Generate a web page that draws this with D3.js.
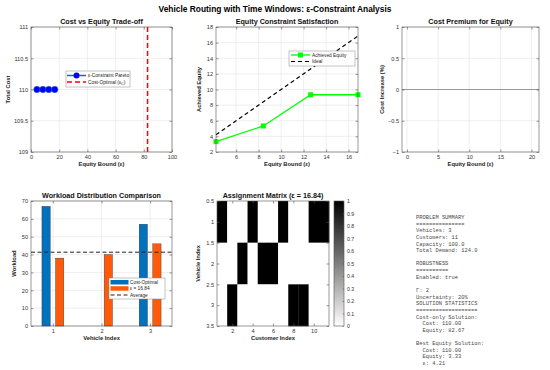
<!DOCTYPE html>
<html>
<head>
<meta charset="utf-8">
<script src="https://cdn.jsdelivr.net/npm/d3@7"></script>
<style>
  body { margin: 0; background: #fff; }
  svg { font-family: "Liberation Sans", Arial, Helvetica, sans-serif; }
</style>
</head>
<body>
<div id="chart"></div>
<script>
// ---- data ----
const paretoEps = [4.21, 8.42, 12.63, 16.84];
const paretoCost = [110, 110, 110, 110];
const costOptEquity = 82.67;
const achievedEquity = [3.33, 5.33, 9.33, 9.33];
const premiumZero = 0;
const vehicles = [1, 2, 3];
const workloadCostOpt = [67, 0, 57];
const workloadEps = [38, 40, 46];
const avgWorkload = 41.33;
const customers = [1, 2, 3, 4, 5, 6, 7, 8, 9, 10, 11];
const assignment = [
  [1, 0, 0, 1, 0, 0, 1, 0, 0, 1, 1],
  [0, 0, 1, 0, 1, 1, 0, 0, 0, 0, 0],
  [0, 1, 0, 0, 0, 0, 0, 1, 1, 0, 0]
];
const summaryLines = [
  'PROBLEM SUMMARY', '===============', 'Vehicles: 3', 'Customers: 11',
  'Capacity: 100.0', 'Total Demand: 124.0', '', 'ROBUSTNESS', '==========',
  'Enabled: true', '', 'Γ: 2', 'Uncertainty: 20%', 'SOLUTION STATISTICS',
  '===================', 'Cost-only Solution:', '  Cost: 110.00', '  Equity: 82.67',
  '', 'Best Equity Solution:', '  Cost: 110.00', '  Equity: 3.33', '  ε: 4.21'
];

const blue = '#0072bd', orange = '#ff5a0a', green = '#00ff00';
const fmt = d => String(d).replace('-', '\u2212');

const svg = d3.select('#chart').append('svg')
  .attr('width', 550).attr('height', 370);

svg.append('text')
  .attr('x', 275).attr('y', 12)
  .attr('text-anchor', 'middle')
  .style('font-size', '8.4px').style('font-weight', 'bold')
  .text('Vehicle Routing with Time Windows: ε-Constraint Analysis');

// draws grid, box, inward ticks and labels for one axes panel
function makeAxes(box, x, y, opt) {
  const g = svg.append('g');
  if (opt.grid !== false) {
    g.selectAll('.gx').data(opt.xt).enter().append('line')
      .attr('x1', d => x(d)).attr('x2', d => x(d))
      .attr('y1', box.t).attr('y2', box.b)
      .attr('stroke', '#e4e4e4').attr('stroke-width', 0.6);
    g.selectAll('.gy').data(opt.yt).enter().append('line')
      .attr('y1', d => y(d)).attr('y2', d => y(d))
      .attr('x1', box.l).attr('x2', box.r)
      .attr('stroke', '#e4e4e4').attr('stroke-width', 0.6);
  }
  const plot = svg.append('g');
  const front = svg.append('g');
  const axStyle = sel => {
    sel.select('.domain').remove();
    sel.selectAll('line').attr('stroke', '#555').attr('stroke-width', 0.6);
    sel.selectAll('text').attr('fill', '#333').style('font-size', '5.6px');
  };
  front.append('g').attr('transform', `translate(0,${box.b})`)
    .call(d3.axisBottom(x).tickValues(opt.xt).tickFormat(fmt).tickSizeInner(-2.5).tickSizeOuter(0).tickPadding(3))
    .call(axStyle);
  front.append('g').attr('transform', `translate(0,${box.t})`)
    .call(d3.axisTop(x).tickValues(opt.xt).tickFormat('').tickSizeInner(-2.5).tickSizeOuter(0))
    .call(axStyle);
  front.append('g').attr('transform', `translate(${box.l},0)`)
    .call(d3.axisLeft(y).tickValues(opt.yt).tickFormat(fmt).tickSizeInner(-2.5).tickSizeOuter(0).tickPadding(3))
    .call(axStyle);
  front.append('g').attr('transform', `translate(${box.r},0)`)
    .call(d3.axisRight(y).tickValues(opt.yt).tickFormat('').tickSizeInner(-2.5).tickSizeOuter(0))
    .call(axStyle);
  front.append('rect')
    .attr('x', box.l).attr('y', box.t)
    .attr('width', box.r - box.l).attr('height', box.b - box.t)
    .attr('fill', 'none').attr('stroke', '#555').attr('stroke-width', 0.6);
  front.append('text')
    .attr('x', (box.l + box.r) / 2).attr('y', box.t - 3)
    .attr('text-anchor', 'middle')
    .style('font-size', '7.2px').style('font-weight', 'bold').attr('fill', '#111')
    .text(opt.title);
  front.append('text')
    .attr('x', (box.l + box.r) / 2).attr('y', box.b + 14)
    .attr('text-anchor', 'middle')
    .style('font-size', '5.8px').style('font-weight', 'bold').attr('fill', '#222')
    .text(opt.xlabel);
  front.append('text')
    .attr('transform', `translate(${box.l - opt.ylOff},${(box.t + box.b) / 2}) rotate(-90)`)
    .attr('text-anchor', 'middle')
    .style('font-size', '5.8px').style('font-weight', 'bold').attr('fill', '#222')
    .text(opt.ylabel);
  return {plot, front};
}

function legendBox(g, l, t, w, h) {
  g.append('rect').attr('x', l).attr('y', t).attr('width', w).attr('height', h)
    .attr('fill', '#fff').attr('stroke', '#888').attr('stroke-width', 0.5);
}
function legendText(g, x, y, txt) {
  return g.append('text').attr('x', x).attr('y', y + 1.7)
    .style('font-size', '4.8px').attr('fill', '#222').text(txt);
}

// ---- panel 1: cost vs equity ----
{
  const box = {l: 31, r: 172, t: 27, b: 152};
  const x = d3.scaleLinear().domain([0, 100]).range([box.l, box.r]);
  const y = d3.scaleLinear().domain([109, 111]).range([box.b, box.t]);
  const {plot, front} = makeAxes(box, x, y, {
    xt: [0, 20, 40, 60, 80, 100], yt: [109, 109.5, 110, 110.5, 111],
    title: 'Cost vs Equity Trade-off', xlabel: 'Equity Bound (ε)', ylabel: 'Total Cost', ylOff: 21
  });
  const pts = paretoEps.map((e, i) => [e, paretoCost[i]]);
  plot.append('path').attr('d', d3.line().x(d => x(d[0])).y(d => y(d[1]))(pts))
    .attr('fill', 'none').attr('stroke', blue).attr('stroke-width', 1.5);
  plot.selectAll('circle').data(pts).enter().append('circle')
    .attr('cx', d => x(d[0])).attr('cy', d => y(d[1])).attr('r', 3.2)
    .attr('fill', '#0000ff').attr('stroke', blue).attr('stroke-width', 0.5);
  plot.append('line').attr('x1', x(costOptEquity)).attr('x2', x(costOptEquity))
    .attr('y1', box.t).attr('y2', box.b)
    .attr('stroke', '#ff0000').attr('stroke-width', 1.5).attr('stroke-dasharray', '5,3');
  const lg = front.append('g');
  legendBox(lg, 66, 71, 64, 16);
  lg.append('line').attr('x1', 67).attr('x2', 86).attr('y1', 75.5).attr('y2', 75.5)
    .attr('stroke', blue).attr('stroke-width', 1.5);
  lg.append('circle').attr('cx', 76.5).attr('cy', 75.5).attr('r', 3).attr('fill', '#0000ff');
  legendText(lg, 88, 75.5, 'ε-Constraint Pareto');
  lg.append('line').attr('x1', 67).attr('x2', 86).attr('y1', 82).attr('y2', 82)
    .attr('stroke', '#ff0000').attr('stroke-width', 1.5).attr('stroke-dasharray', '5,3');
  const t2 = legendText(lg, 88, 82, 'Cost-Optimal  (ε');
  t2.append('tspan').attr('dy', 1.2).style('font-size', '3.6px').text('C');
  t2.append('tspan').attr('dy', -1.2).text(')');
}

// ---- panel 2: equity constraint satisfaction ----
{
  const box = {l: 216, r: 358, t: 27, b: 152};
  const x = d3.scaleLinear().domain([paretoEps[0], paretoEps[3]]).range([box.l, box.r]);
  const y = d3.scaleLinear().domain([2, 18]).range([box.b, box.t]);
  const {plot, front} = makeAxes(box, x, y, {
    xt: [6, 8, 10, 12, 14, 16], yt: [2, 4, 6, 8, 10, 12, 14, 16, 18],
    title: 'Equity Constraint Satisfaction', xlabel: 'Equity Bound (ε)', ylabel: 'Achieved Equity', ylOff: 15
  });
  const pts = paretoEps.map((e, i) => [e, achievedEquity[i]]);
  plot.append('path').attr('d', d3.line().x(d => x(d[0])).y(d => y(d[1]))(pts))
    .attr('fill', 'none').attr('stroke', green).attr('stroke-width', 1.3);
  plot.selectAll('rect').data(pts).enter().append('rect')
    .attr('x', d => x(d[0]) - 2.5).attr('y', d => y(d[1]) - 2.5)
    .attr('width', 5).attr('height', 5).attr('fill', green);
  plot.append('path')
    .attr('d', d3.line().x(d => x(d)).y(d => y(d))([paretoEps[0], paretoEps[3]]))
    .attr('fill', 'none').attr('stroke', '#000').attr('stroke-width', 1.2)
    .attr('stroke-dasharray', '4,3');
  const lg = front.append('g');
  legendBox(lg, 289, 51, 66, 15);
  lg.append('line').attr('x1', 291).attr('x2', 310).attr('y1', 55).attr('y2', 55)
    .attr('stroke', green).attr('stroke-width', 1.3);
  lg.append('rect').attr('x', 298).attr('y', 52.5).attr('width', 5).attr('height', 5).attr('fill', green);
  legendText(lg, 312, 55, 'Achieved Equity');
  lg.append('line').attr('x1', 291).attr('x2', 310).attr('y1', 61.5).attr('y2', 61.5)
    .attr('stroke', '#000').attr('stroke-width', 1.2).attr('stroke-dasharray', '4,3');
  legendText(lg, 312, 61.5, 'Ideal');
}

// ---- panel 3: cost premium ----
{
  const box = {l: 402, r: 539, t: 27, b: 152};
  const x = d3.scaleLinear().domain([-0.8, 21.2]).range([box.l, box.r]);
  const y = d3.scaleLinear().domain([-1, 1]).range([box.b, box.t]);
  const {plot} = makeAxes(box, x, y, {
    xt: [0, 5, 10, 15, 20], yt: [-1, -0.5, 0, 0.5, 1],
    title: 'Cost Premium for Equity', xlabel: 'Equity Bound (ε)', ylabel: 'Cost Increase (%)', ylOff: 18
  });
  plot.append('line').attr('x1', box.l).attr('x2', box.r)
    .attr('y1', y(premiumZero)).attr('y2', y(premiumZero))
    .attr('stroke', '#999').attr('stroke-width', 1.2);
}

// ---- panel 4: workload ----
{
  const box = {l: 31, r: 172, t: 201, b: 326};
  const x = d3.scaleLinear().domain([0.55, 3.45]).range([box.l, box.r]);
  const y = d3.scaleLinear().domain([0, 70]).range([box.b, box.t]);
  const {plot, front} = makeAxes(box, x, y, {
    xt: vehicles, yt: [0, 10, 20, 30, 40, 50, 60, 70],
    title: 'Workload Distribution Comparison', xlabel: 'Vehicle Index', ylabel: 'Workload', ylOff: 15
  });
  const bw = 0.17, off = 0.14;
  const bars = [[workloadCostOpt, -off, blue], [workloadEps, off, orange]];
  bars.forEach(([vals, o, c]) => {
    plot.append('g').selectAll('rect').data(vals).enter().append('rect')
      .attr('x', (d, i) => x(vehicles[i] + o - bw / 2))
      .attr('width', x(bw) - x(0))
      .attr('y', d => y(d)).attr('height', d => y(0) - y(d))
      .attr('fill', c).attr('stroke', '#333').attr('stroke-width', d => d > 0 ? 0.4 : 0);
  });
  plot.append('line').attr('x1', box.l).attr('x2', box.r)
    .attr('y1', y(avgWorkload)).attr('y2', y(avgWorkload))
    .attr('stroke', '#222').attr('stroke-width', 1).attr('stroke-dasharray', '4,2.5');
  const lg = front.append('g');
  legendBox(lg, 109, 278, 56, 21);
  lg.append('rect').attr('x', 110.5).attr('y', 280).attr('width', 18).attr('height', 4.5).attr('fill', blue);
  legendText(lg, 130, 282.2, 'Cost-Optimal');
  lg.append('rect').attr('x', 110.5).attr('y', 286.2).attr('width', 18).attr('height', 4.5).attr('fill', orange);
  legendText(lg, 130, 288.5, 'ε = 16.84');
  lg.append('line').attr('x1', 110.5).attr('x2', 128.5).attr('y1', 295).attr('y2', 295)
    .attr('stroke', '#222').attr('stroke-width', 1).attr('stroke-dasharray', '4,2.5');
  legendText(lg, 130, 295, 'Average');
}

// ---- panel 5: assignment matrix ----
{
  const box = {l: 217, r: 329, t: 201, b: 326};
  const x = d3.scaleLinear().domain([0.5, 11.5]).range([box.l, box.r]);
  const y = d3.scaleLinear().domain([0.5, 3.5]).range([box.t, box.b]);
  const color = d3.scaleLinear().domain([0, 1]).range(['#ffffff', '#000000']);
  const {plot, front} = makeAxes(box, x, y, {
    grid: false, xt: [2, 4, 6, 8, 10], yt: [0.5, 1, 1.5, 2, 2.5, 3, 3.5],
    title: 'Assignment Matrix (ε = 16.84)', xlabel: 'Customer Index', ylabel: 'Vehicle Index', ylOff: 17
  });
  const cells = [];
  assignment.forEach((row, r) => row.forEach((v, c) => cells.push({v, r: r + 1, c: customers[c]})));
  plot.selectAll('rect').data(cells).enter().append('rect')
    .attr('x', d => x(d.c - 0.5)).attr('y', d => y(d.r - 0.5))
    .attr('width', x(d3.min(customers) + 0.5) - x(d3.min(customers) - 0.5) + 0.3)
    .attr('height', y(1.5) - y(0.5) + 0.3)
    .attr('fill', d => color(d.v));

  // colorbar
  const cb = {l: 334, r: 344, t: 201, b: 326};
  const cy = d3.scaleLinear().domain([0, 1]).range([cb.b, cb.t]);
  const grad = svg.append('defs').append('linearGradient').attr('id', 'cbgrad')
    .attr('x1', 0).attr('x2', 0).attr('y1', 1).attr('y2', 0);
  grad.selectAll('stop').data([0, 1]).enter().append('stop')
    .attr('offset', d => d).attr('stop-color', d => color(d));
  const cbg = svg.append('g');
  cbg.append('rect').attr('x', cb.l).attr('y', cb.t).attr('width', cb.r - cb.l).attr('height', cb.b - cb.t)
    .attr('fill', 'url(#cbgrad)').attr('stroke', '#555').attr('stroke-width', 0.6);
  const cbt = d3.range(0, 11).map(i => i / 10);
  cbg.append('g').attr('transform', `translate(${cb.r},0)`)
    .call(d3.axisRight(cy).tickValues(cbt).tickFormat(d => String(+d.toFixed(1))).tickSizeInner(-1.5).tickSizeOuter(0).tickPadding(3))
    .call(sel => {
      sel.select('.domain').remove();
      sel.selectAll('line').attr('stroke', '#555').attr('stroke-width', 0.5);
      sel.selectAll('text').attr('fill', '#333').style('font-size', '5.2px');
    });
}

// ---- panel 6: summary text ----
svg.append('g').selectAll('text').data(summaryLines).enter().append('text')
  .attr('x', 416).attr('y', (d, i) => 219 + i * 6.64)
  .attr('xml:space', 'preserve')
  .style('white-space', 'pre')
  .style('font-family', '"Liberation Mono", "Courier New", monospace')
  .style('font-size', '5.4px').attr('fill', '#4a4a4a')
  .text(d => d);
</script>
</body>
</html>
